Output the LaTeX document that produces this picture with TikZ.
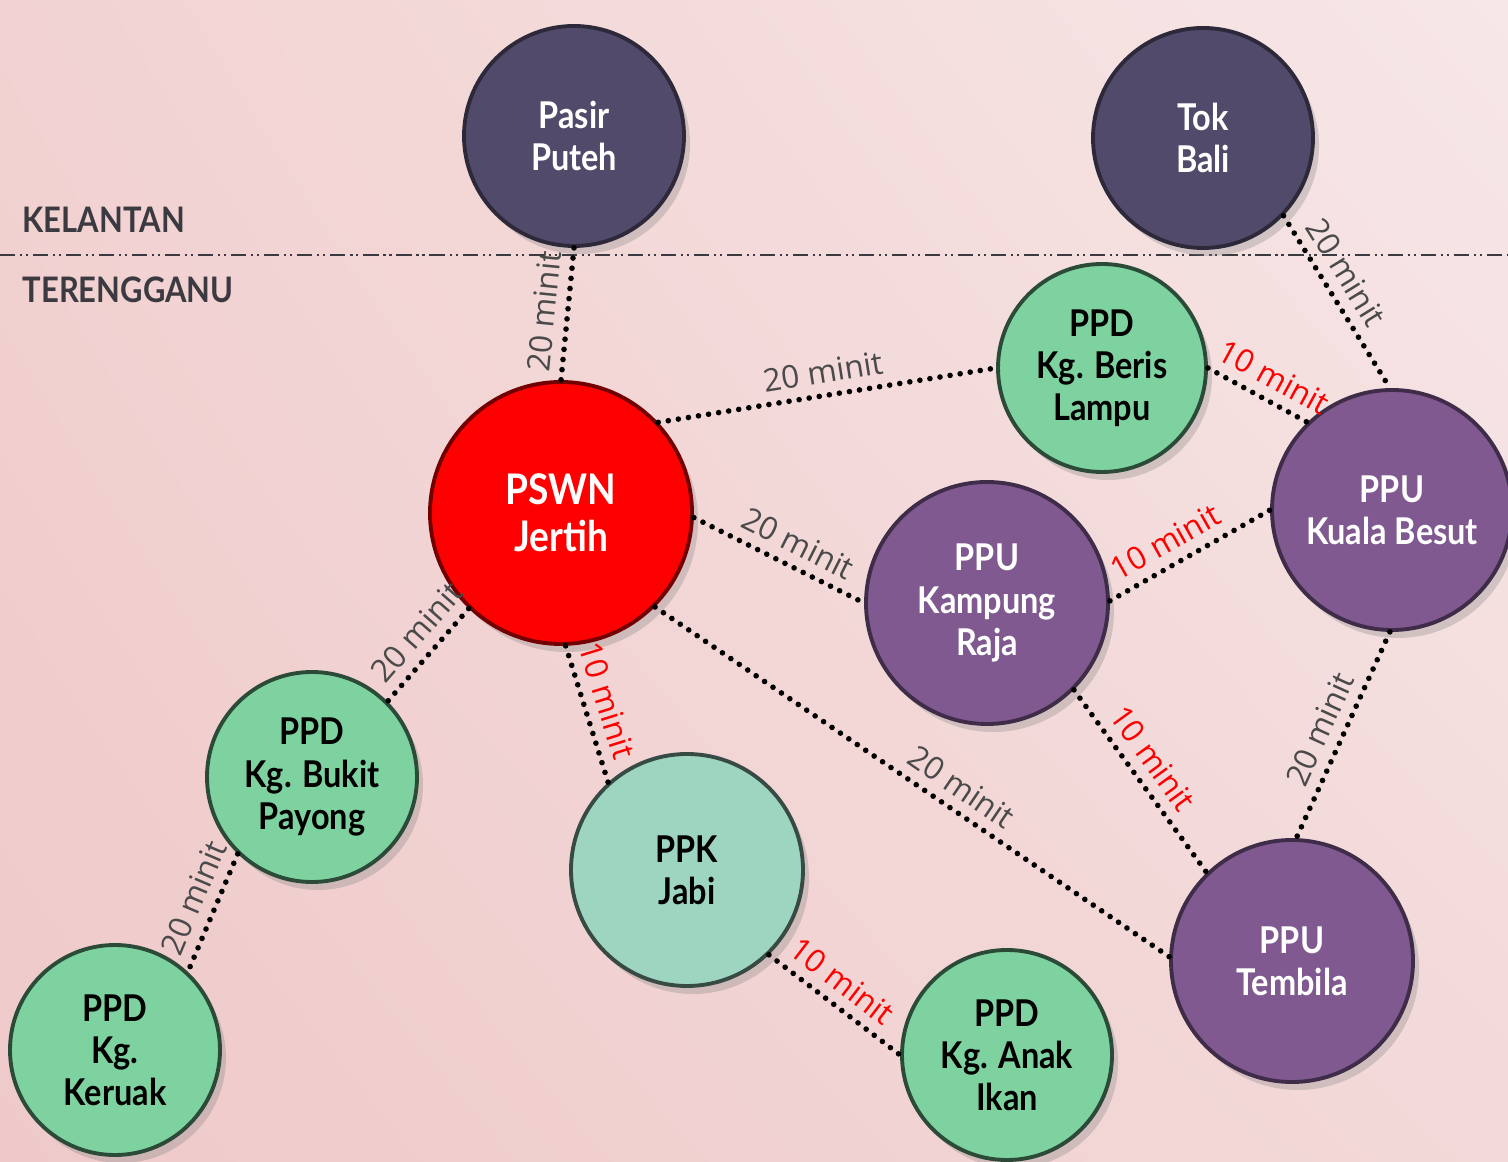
\documentclass[tikz,border=0pt]{standalone}
\usepackage{fontspec}
\setmainfont{Lato}[FakeStretch=0.88]
\newfontfamily\minitfont{Open Sans}
\usetikzlibrary{shadows,shadings}

\definecolor{bgA}{HTML}{F2D2D2}
\definecolor{bgB}{HTML}{F7E7E7}
\definecolor{bgC}{HTML}{EFC9C9}
\definecolor{bgD}{HTML}{F3D9D9}
\definecolor{slate}{HTML}{524A6A}
\definecolor{plum}{HTML}{7F5990}
\definecolor{mint}{HTML}{7ED2A0}
\definecolor{aqua}{HTML}{9DD5C1}
\definecolor{minitgray}{HTML}{4A4A4A}
\definecolor{statetext}{HTML}{3A3A40}

\begin{document}
\begin{tikzpicture}[
  bubble/.style={circle, inner sep=0pt, align=center, line width=1.1pt,
    font=\bfseries\fontsize{10.5}{12}\selectfont,
    drop shadow={opacity=0.3, shadow xshift=0.6mm, shadow yshift=-0.8mm}},
  kelbub/.style={bubble, fill=slate, draw=slate!55!black, text=white},
  hqbub/.style={bubble, fill=red, draw=red!45!black, text=white,
    font=\bfseries\fontsize{12}{13.5}\selectfont},
  ppdbub/.style={bubble, fill=mint, draw=mint!35!black, text=black},
  ppkbub/.style={bubble, fill=aqua, draw=aqua!35!black, text=black},
  ppubub/.style={bubble, fill=plum, draw=plum!50!black, text=white},
  road/.style={line width=1.6pt, line cap=round, dash pattern=on 0pt off 2.9pt},
  min20/.style={midway, sloped, above, inner sep=2.6pt, text=minitgray,
    font=\minitfont\fontsize{9}{10}\selectfont},
  min10/.style={min20, text=red},
  state/.style={anchor=base west, inner sep=0pt, text=statetext,
    font=\bfseries\fontsize{10}{11}\selectfont}
]

\useasboundingbox (0,0) rectangle (15.08,11.61);
\shade[upper left=bgA, upper right=bgB, lower left=bgC, lower right=bgD]
  (0,0) rectangle (15.08,11.61);

% border line
\draw[statetext, line width=0.7pt,
  dash pattern=on 4.3pt off 1.4pt on 0.6pt off 1.1pt on 0.6pt off 1.4pt]
  (0,9.06) -- (15.08,9.06);
\node[state] (kelantan) at (0.22,9.28) {KELANTAN};
\node[state] (terengganu) at (0.22,8.58) {TERENGGANU};

% offices
\node[kelbub, minimum size=2.2cm] (pasir) at (5.74,10.25) {Pasir\\Puteh};
\node[kelbub, minimum size=2.2cm] (tokbali) at (12.03,10.23) {Tok\\Bali};
\node[hqbub, minimum size=2.62cm] (jertih) at (5.61,6.48) {PSWN\\Jertih};
\node[ppdbub, minimum size=2.08cm] (beris) at (11.02,7.93) {PPD\\Kg. Beris\\Lampu};
\node[ppubub, minimum size=2.4cm] (kbesut) at (13.92,6.51) {PPU\\Kuala Besut};
\node[ppubub, minimum size=2.42cm] (kgraja) at (9.87,5.58) {PPU\\Kampung\\Raja};
\node[ppdbub, minimum size=2.1cm] (bukit) at (3.12,3.84) {PPD\\Kg. Bukit\\Payong};
\node[ppkbub, minimum size=2.32cm] (jabi) at (6.87,2.91) {PPK\\Jabi};
\node[ppdbub, minimum size=2.1cm] (keruak) at (1.15,1.11) {PPD\\Kg.\\Keruak};
\node[ppdbub, minimum size=2.1cm] (anak) at (10.07,1.06) {PPD\\Kg. Anak\\Ikan};
\node[ppubub, minimum size=2.42cm] (tembila) at (12.92,2.00) {PPU\\Tembila};

% routes
\draw[road] (pasir.south) -- node[min20] {20 minit} (jertih.north);
\draw[road] (tokbali.-44) -- node[min20, pos=0.4] {20 minit} (kbesut.91);
\draw[road] (jertih.43) -- node[min20] {20 minit} (beris.180);
\draw[road] (beris.0) -- node[min10, pos=0.55] {10 minit} (kbesut.134);
\draw[road] (jertih.-2) -- node[min20, pos=0.55] {20 minit} (kgraja.180);
\draw[road] (kgraja.1) -- node[min10, pos=0.42] {10 minit} (kbesut.180);
\draw[road] (jertih.-45) -- node[min20, pos=0.57] {20 minit} (tembila.178);
\draw[road] (kgraja.-45) -- node[min10, pos=0.45] {10 minit} (tembila.134);
\draw[road] (kbesut.-91) -- node[min20, pos=0.52] {20 minit} (tembila.88);
\draw[road] (jertih.-134) -- node[min20, pos=0.42] {20 minit} (bukit.45);
\draw[road] (jertih.-88) -- node[min10, pos=0.45] {10 minit} (jabi.132);
\draw[road] (bukit.-134) -- node[min20, pos=0.45] {20 minit} (keruak.47);
\draw[road] (jabi.-46) -- node[min10, pos=0.45] {10 minit} (anak.180);

\end{tikzpicture}
\end{document}
